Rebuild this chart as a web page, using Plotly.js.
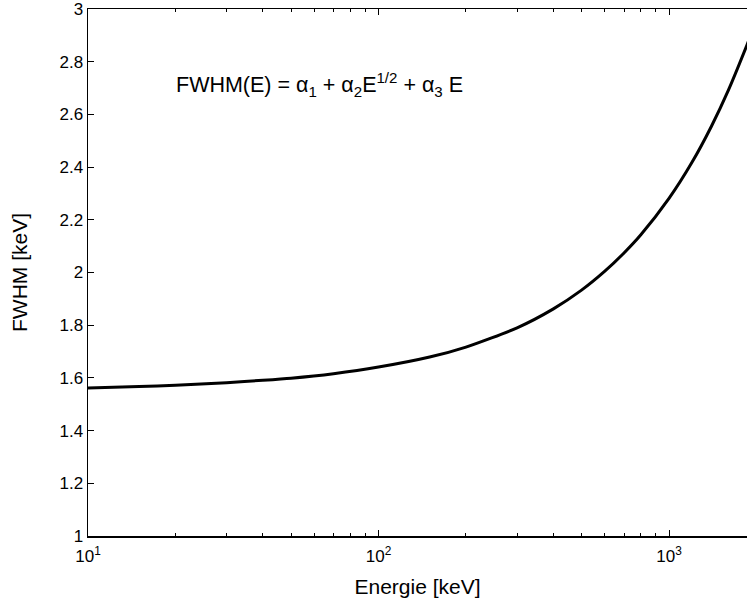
<!DOCTYPE html>
<html>
<head>
<meta charset="utf-8">
<script src="https://cdn.plot.ly/plotly-3.0.1.min.js"></script>
<style>html,body{margin:0;padding:0;background:#fff;}#chart{width:747px;height:601px;}</style>
</head>
<body>
<div id="chart"></div>
<script>
// Energy values (keV)
const energy = [10, 15, 20, 30, 40, 50, 70, 100, 150, 200, 300, 400, 500, 600, 700, 800, 1000, 1200, 1400, 1600, 1855, 1950];
// FWHM values (keV)
const fwhm = [1.562, 1.567, 1.572, 1.582, 1.591, 1.599, 1.616, 1.641, 1.679, 1.717, 1.790, 1.862, 1.933, 2.004, 2.074, 2.143, 2.281, 2.418, 2.555, 2.691, 2.863, 2.925];
const xTickVals = [10, 100, 1000];
const xTickText = ['10<sup>1</sup>', '10<sup>2</sup>', '10<sup>3</sup>'];
const xMinorVals = [20, 30, 40, 50, 60, 70, 80, 90, 200, 300, 400, 500, 600, 700, 800, 900];
const formulaText = 'FWHM(E) = α<sub>1</sub> + α<sub>2</sub>E<sup>1/2</sup> + α<sub>3</sub> E';

const font = 'Liberation Sans, Arial, Helvetica, sans-serif';

const trace = {
  x: energy, y: fwhm, type: 'scatter', mode: 'lines',
  line: {color: '#000', width: 3, shape: 'spline', smoothing: 0.6},
  hoverinfo: 'skip', showlegend: false
};

const layout = {
  width: 747, height: 601,
  margin: {l: 88, r: 0, t: 9, b: 65},
  paper_bgcolor: '#fff', plot_bgcolor: '#fff',
  font: {family: font, color: '#000'},
  showlegend: false,
  xaxis: {
    type: 'log', range: [1, 1 + 659 / 290.5],
    tickmode: 'array', tickvals: xTickVals, ticktext: xTickText,
    ticks: 'inside', ticklen: 6, tickwidth: 1, tickcolor: '#000',
    ticklabelstandoff: 4, ticklabeloverflow: 'allow',
    minor: {tickmode: 'array', tickvals: xMinorVals, ticks: 'inside', ticklen: 3, tickwidth: 1, tickcolor: '#000', showgrid: false},
    showline: true, linecolor: '#000', linewidth: 1.5, mirror: 'ticks',
    showgrid: false, zeroline: false,
    tickfont: {size: 17, family: font, color: '#000'},
    title: {text: 'Energie [keV]', font: {size: 21, family: font, color: '#000'}, standoff: 14}
  },
  yaxis: {
    range: [1, 3], dtick: 0.2, tick0: 1,
    ticks: 'inside', ticklen: 6, tickwidth: 1, tickcolor: '#000',
    ticklabeloverflow: 'allow',
    showline: true, linecolor: '#000', linewidth: 1.5, mirror: false,
    showgrid: false, zeroline: false,
    tickfont: {size: 17, family: font, color: '#000'},
    title: {text: 'FWHM [keV]', font: {size: 21, family: font, color: '#000'}, standoff: 26}
  },
  annotations: [{
    xref: 'paper', yref: 'paper', x: 0.1305, y: 0.856,
    xanchor: 'left', yanchor: 'middle', showarrow: false,
    text: formulaText, font: {size: 21.5, family: font, color: '#000'}
  }]
};

Plotly.newPlot('chart', [trace], layout, {displayModeBar: false, staticPlot: true});
</script>
</body>
</html>
